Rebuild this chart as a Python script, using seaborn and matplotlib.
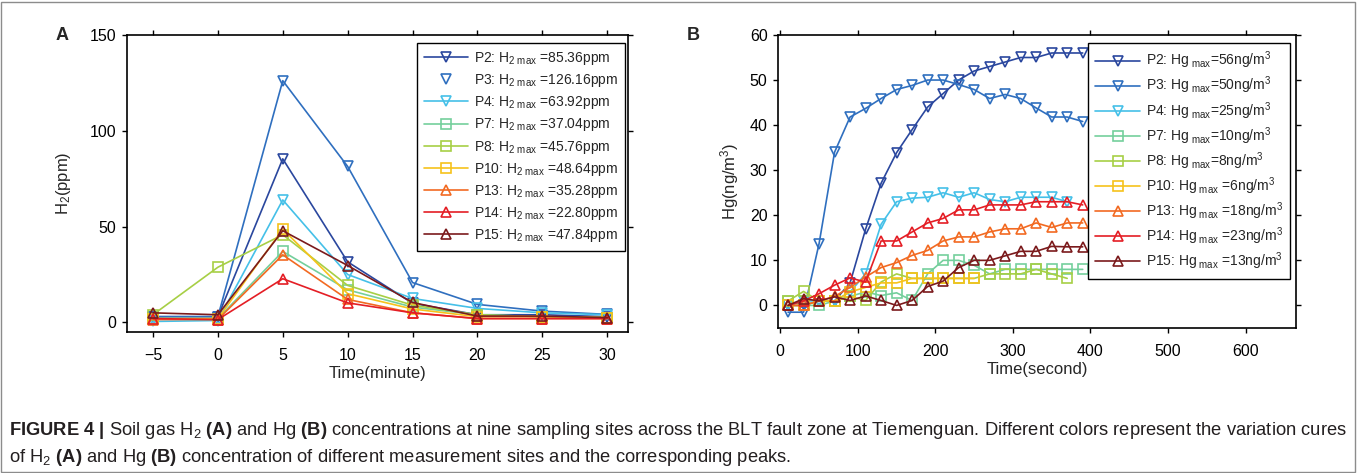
import matplotlib
matplotlib.use("Agg")
import matplotlib.pyplot as plt
import seaborn as sns
from matplotlib.lines import Line2D
from matplotlib.patches import Rectangle
from matplotlib import font_manager

# ---- data: panel A (H2, ppm) ----
time_min = [-5, 0, 5, 10, 15, 20, 25, 30]
h2_p2 = [3, 3, 85.36, 31.6, 10, 4, 4, 3]
h2_p3 = [3, 3, 126.16, 81.4, 20.8, 9.4, 5.9, 4.2]
h2_p4 = [0.5, 1, 63.92, 25, 12.5, 7.3, 5, 4]
h2_p7 = [2, 2, 37.04, 17, 8, 4, 3, 2.5]
h2_p8 = [4, 28.8, 45.76, 19.3, 9, 4, 3, 2.5]
h2_p10 = [2, 2, 48.64, 15, 7, 3, 3, 2.5]
h2_p13 = [1.5, 1.5, 35.28, 12, 5, 2, 2, 2]
h2_p14 = [2, 1.5, 22.80, 10.2, 5, 2, 2, 2]
h2_p15 = [5, 4, 47.84, 29.7, 10.4, 3.3, 3.3, 2.5]
h2_max = ["85.36", "126.16", "63.92", "37.04", "45.76", "48.64", "35.28", "22.80", "47.84"]

# ---- data: panel B (Hg, ng/m3) ----
time_sec = [10, 30, 50, 70, 90, 110, 130, 150, 170, 190,
            210, 230, 250, 270, 290, 310, 330, 350, 370, 390]
hg_p2 = [0, 0, 1, 1, 5, 16.9, 27.1, 33.9, 39, 44, 47, 50, 52, 53, 54, 55, 55, 56, 56, 56]
hg_p3 = [-1.5, -1.5, 13.7, 34, 41.8, 43.7, 45.9, 47.9, 48.8, 50, 50, 49, 47.9, 45.9, 46.8,
         45.9, 43.8, 41.8, 41.8, 40.8]
hg_p4 = [0, 1, 1, 1, 3, 7, 18, 23, 23.8, 24, 25, 24, 25, 23.5, 23, 24, 24, 24, 23]
hg_p7 = [1, 0, 0, 1, 2, 3, 2.2, 2.8, 1.1, 7, 10, 10, 8.9, 7, 8, 8, 8, 8, 8, 8]
hg_p8 = [1, 3.1, 1, 1, 2, 1.1, 5.2, 7, 6, 6, 6, 6, 6, 7, 7, 7, 8, 7, 6]
hg_p10 = [0, 0, 1, 1, 3, 4, 5, 5, 6, 6, 6, 6, 6]
hg_p13 = [0, 0, 1, 2, 4, 6.3, 8.4, 9.5, 11.1, 12.2, 14.3, 15.2, 15.2, 16.3, 17, 17, 18.3,
          17.3, 18.3, 18.3]
hg_p14 = [0, 1, 2.6, 4.5, 6.1, 5.2, 14.3, 14.3, 16.3, 18.3, 19.3, 21.2, 21.2, 22.3, 22.3,
          22.3, 23, 23, 23, 22.3]
hg_p15 = [0, 1.5, 1, 1.9, 1.1, 2.1, 1.1, 0, 1.1, 4.2, 5.4, 8.4, 10, 10, 11, 12, 12, 13.1,
          13, 13]
hg_max = ["56", "50", "25", "10", "8", "6", "18", "23", "13"]

sites = ["P2", "P3", "P4", "P7", "P8", "P10", "P13", "P14", "P15"]
colors = ["#2a479e", "#2f6fbf", "#45c0e8", "#74cf9c", "#a7cf45", "#f6c21b",
          "#f26a22", "#e41e25", "#7b1a1c"]
markers = ["v", "v", "v", "s", "s", "s", "^", "^", "^"]

h2_series = [h2_p2, h2_p3, h2_p4, h2_p7, h2_p8, h2_p10, h2_p13, h2_p14, h2_p15]
hg_series = [hg_p2, hg_p3, hg_p4, hg_p7, hg_p8, hg_p10, hg_p13, hg_p14, hg_p15]

sns.set_style("ticks")
names = {f.name for f in font_manager.fontManager.ttflist}
cap_font = "Liberation Sans Narrow" if "Liberation Sans Narrow" in names else "Liberation Sans"
plt.rcParams["font.family"] = ["Liberation Sans", "DejaVu Sans"]
plt.rcParams["mathtext.fontset"] = "custom"
plt.rcParams["mathtext.rm"] = "Liberation Sans"
plt.rcParams["mathtext.it"] = "Liberation Sans:italic"
plt.rcParams["mathtext.bf"] = cap_font + ":bold"

fig = plt.figure(figsize=(13.57, 4.73), dpi=100)
axA = fig.add_axes([0.0936, 0.2981, 0.3692, 0.6279])
axB = fig.add_axes([0.5733, 0.3066, 0.3817, 0.6195])

line_kw = dict(lw=1.2, ms=7.5, mew=1.2, mfc="none")

for vals, c, m in zip(h2_series, colors, markers):
    sns.lineplot(x=time_min[:len(vals)], y=vals, color=c, marker=m, mec=c, ax=axA, **line_kw)
for vals, c, m in zip(hg_series, colors, markers):
    sns.lineplot(x=time_sec[:len(vals)], y=vals, color=c, marker=m, mec=c, ax=axB, **line_kw)


def style_axis(ax):
    for s in ax.spines.values():
        s.set_visible(True)
        s.set_linewidth(1.2)
        s.set_color("black")
    ax.tick_params(axis="both", which="both", direction="out", length=3.5, width=1,
                   top=True, right=True, labelsize=11.5, colors="black", pad=4)
    ax.tick_params(axis="x", pad=8)


# panel A
axA.set_xlim(-7, 31.6)
axA.set_ylim(-5, 150)
axA.set_xticks([-5, 0, 5, 10, 15, 20, 25, 30])
axA.set_yticks([0, 50, 100, 150])
axA.set_xlabel("Time(minute)", fontsize=12, labelpad=2)
axA.set_ylabel(r"H$_{\mathrm{2}}$(ppm)", fontsize=12, labelpad=12)
style_axis(axA)

handlesA = []
for i, (s, c, m) in enumerate(zip(sites, colors, markers)):
    ls = "none" if s == "P3" else "-"
    handlesA.append(Line2D([], [], color=c, marker=m, ls=ls, **line_kw, mec=c,
                           label=s + r": H$_{\mathrm{2\ max}}$ =" + h2_max[i] + "ppm"))
legA = axA.legend(handles=handlesA, loc="upper left", bbox_to_anchor=(0.579, 0.973),
                  borderaxespad=0, fontsize=10, handlelength=3.2, labelspacing=0.37,
                  fancybox=False, framealpha=1, edgecolor="black", borderpad=0.5,
                  handletextpad=0.4)
legA.get_frame().set_linewidth(1)

# panel B
axB.set_xlim(-3, 665)
axB.set_ylim(-5, 60)
axB.set_xticks([0, 100, 200, 300, 400, 500, 600])
axB.set_yticks([0, 10, 20, 30, 40, 50, 60])
axB.set_xlabel("Time(second)", fontsize=12, labelpad=2)
axB.set_ylabel(r"Hg(ng/m$^{\mathrm{3}}$)", fontsize=12, labelpad=6)
style_axis(axB)

handlesB = []
for i, (s, c, m) in enumerate(zip(sites, colors, markers)):
    sep = " =" if i >= 5 else "="
    handlesB.append(Line2D([], [], color=c, marker=m, **line_kw, mec=c,
                           label=s + r": Hg$_{\ \mathrm{max}}$" + sep + hg_max[i]
                           + r"ng/m$^{\mathrm{3}}$"))
legB = axB.legend(handles=handlesB, loc="upper left", bbox_to_anchor=(0.598, 0.973),
                  borderaxespad=0, fontsize=10, handlelength=3.3, labelspacing=0.25,
                  fancybox=False, framealpha=1, edgecolor="black", borderpad=0.5,
                  handletextpad=0.4)
legB.get_frame().set_linewidth(1)

# panel letters
fig.text(62 / 1357, 1 - 35 / 473, "A", fontsize=13, fontweight="bold", ha="center", va="center")
fig.text(693 / 1357, 1 - 35 / 473, "B", fontsize=13, fontweight="bold", ha="center", va="center")

# caption
cap1 = (r"$\mathbf{FIGURE\ 4\ |}$ Soil gas H$_{\mathrm{2}}$ $\mathbf{(A)}$ and Hg $\mathbf{(B)}$ "
        "concentrations at nine sampling sites across the BLT fault zone at Tiemenguan. "
        "Different colors represent the variation cures")
cap2 = (r"of H$_{\mathrm{2}}$ $\mathbf{(A)}$ and Hg $\mathbf{(B)}$ concentration of different "
        "measurement sites and the corresponding peaks.")
fig.text(9 / 1357, 1 - 430 / 473, cap1, fontsize=13.2, family=cap_font, color="#231f20",
         va="center", ha="left")
fig.text(9 / 1357, 1 - 457 / 473, cap2, fontsize=13.2, family=cap_font, color="#231f20",
         va="center", ha="left")

# outer frame
fig.patches.append(Rectangle((1 / 1357, 1 / 473), 1354 / 1357, 470 / 473, transform=fig.transFigure,
                             fill=False, edgecolor="#8c8c8c", lw=1))

fig.savefig("out.png", dpi=100)
